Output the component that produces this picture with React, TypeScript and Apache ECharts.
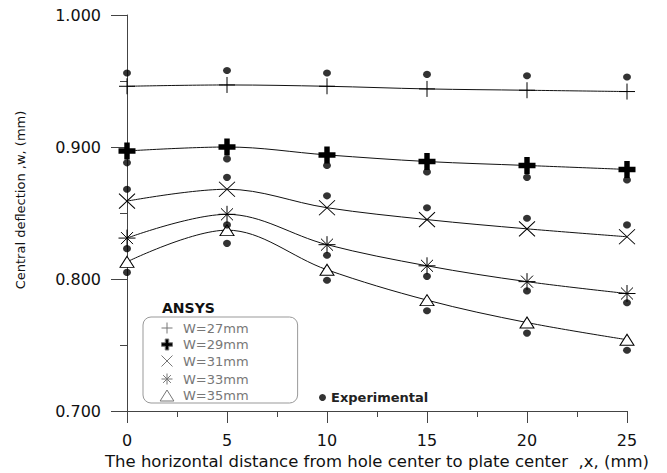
import React, { useEffect, useRef } from 'react';
import * as echarts from 'echarts';

const xValues = [0, 5, 10, 15, 20, 25];
const xTicks = [0, 5, 10, 15, 20, 25];
const yTicks = [0.7, 0.8, 0.9, 1.0];

const seriesNames = ['W=27mm', 'W=29mm', 'W=31mm', 'W=33mm', 'W=35mm'];
const ansys27 = [0.946, 0.947, 0.946, 0.944, 0.943, 0.942];
const ansys29 = [0.897, 0.9, 0.894, 0.889, 0.886, 0.883];
const ansys31 = [0.859, 0.868, 0.854, 0.845, 0.838, 0.832];
const ansys33 = [0.831, 0.849, 0.826, 0.81, 0.798, 0.789];
const ansys35 = [0.813, 0.837, 0.807, 0.784, 0.767, 0.754];

const exp27 = [0.956, 0.958, 0.956, 0.955, 0.954, 0.953];
const exp29 = [0.888, 0.891, 0.886, 0.881, 0.877, 0.875];
const exp31 = [0.868, 0.877, 0.863, 0.854, 0.846, 0.841];
const exp33 = [0.823, 0.841, 0.818, 0.802, 0.791, 0.782];
const exp35 = [0.805, 0.827, 0.799, 0.776, 0.759, 0.746];

const FONT = 'DejaVu Sans';

const SYM_PLUS = 'path://M0,5L10,5M5,0L5,10';
const SYM_BOLDPLUS = 'path://M3.4,0H6.6V3.4H10V6.6H6.6V10H3.4V6.6H0V3.4H3.4Z';
const SYM_CROSS = 'path://M0,0L10,10M10,0L0,10';
const SYM_STAR = 'path://M5,0L5,10M0,5L10,5M1.46,1.46L8.54,8.54M8.54,1.46L1.46,8.54';
const SYM_TRI = 'path://M5,0L10,8L0,8Z';

export default function App() {
  const ref = useRef<HTMLDivElement>(null);
  useEffect(() => {
    if (!ref.current) return;
    const chart = echarts.init(ref.current, null, { renderer: 'svg' });
    const ansys = [ansys27, ansys29, ansys31, ansys33, ansys35];
    const exps = [exp27, exp29, exp31, exp33, exp35];
    const symbols = [SYM_PLUS, SYM_BOLDPLUS, SYM_CROSS, SYM_STAR, SYM_TRI];
    const sizes: any[] = [[16, 16], [17, 17], [16, 15], [17, 17], [14, 11]];
    const fills = ['none', '#000', 'none', 'none', '#fff'];
    const borders = [1, 0, 1, 1, 1];

    const lineSeries = ansys.map((vals, i) => ({
      type: 'line',
      name: seriesNames[i],
      data: xValues.map((x, j) => [x, vals[j]]),
      smooth: 0.35,
      symbol: symbols[i],
      symbolSize: sizes[i],
      showAllSymbol: true,
      clip: false,
      z: 3,
      lineStyle: { color: '#111', width: 1 },
      itemStyle: { color: fills[i], borderColor: '#000', borderWidth: borders[i] },
      emphasis: { disabled: true },
    }));

    const expData: number[][] = [];
    exps.forEach((vals) => vals.forEach((v, j) => expData.push([xValues[j], v])));

    const option: any = {
      animation: false,
      backgroundColor: '#fff',
      title: {
        text: 'ANSYS',
        left: 162,
        top: 301,
        padding: 0,
        textStyle: { fontFamily: FONT, fontSize: 14, fontWeight: 'bold', color: '#111' },
      },
      grid: {
        left: 127,
        right: 40,
        top: 15,
        bottom: 62,
        containLabel: false,
        outerBoundsMode: 'none',
      },
      xAxis: {
        type: 'value',
        min: 0,
        max: 25,
        interval: 5,
        name: 'The horizontal distance from hole center to plate center  ,x, (mm)',
        nameLocation: 'middle',
        nameGap: 40,
        nameTextStyle: { fontFamily: FONT, fontSize: 16.5, color: '#111' },
        axisLine: { show: true, onZero: false, lineStyle: { color: '#444', width: 1 } },
        axisTick: { show: true, length: 12, lineStyle: { color: '#444' } },
        minorTick: { show: true, splitNumber: 2, length: 6, lineStyle: { color: '#444' } },
        splitLine: { show: false },
        axisLabel: {
          margin: 21,
          fontFamily: FONT,
          fontSize: 16,
          color: '#111',
          customValues: xTicks,
        },
      },
      yAxis: {
        type: 'value',
        min: 0.7,
        max: 1.0,
        interval: 0.1,
        name: 'Central deflection ,w, (mm)',
        nameLocation: 'middle',
        nameGap: 100,
        nameTextStyle: { fontFamily: FONT, fontSize: 13, color: '#111', padding: [0, 0, 0, 26] },
        axisLine: { show: true, onZero: false, lineStyle: { color: '#444', width: 1 } },
        axisTick: { show: true, length: 16, lineStyle: { color: '#444' } },
        minorTick: { show: true, splitNumber: 2, length: 7, lineStyle: { color: '#444' } },
        splitLine: { show: false },
        axisLabel: {
          margin: 26,
          fontFamily: FONT,
          fontSize: 16,
          color: '#111',
          customValues: yTicks,
          formatter: (v: number) => v.toFixed(3),
        },
      },
      legend: [
        {
          data: seriesNames.map((n, i) => ({ name: n, icon: symbols[i] })),
          orient: 'vertical',
          left: 143,
          top: 317,
          itemWidth: 16,
          itemHeight: 11,
          itemGap: 2,
          padding: [3, 49, 1, 16],
          borderColor: '#999',
          borderWidth: 1,
          borderRadius: 8,
          selectedMode: false,
          itemStyle: { borderColor: '#777', borderWidth: 1 },
          textStyle: {
            fontFamily: FONT,
            fontSize: 13,
            color: '#777',
            padding: [0, 0, 0, 3],
          },
        },
        {
          data: [{ name: 'Experimental', icon: 'circle' }],
          left: 319,
          top: 391,
          itemWidth: 7,
          itemHeight: 7,
          padding: 0,
          selectedMode: false,
          textStyle: { fontFamily: FONT, fontSize: 13, fontWeight: 'bold', color: '#222' },
        },
      ],
      series: [
        ...lineSeries,
        {
          type: 'scatter',
          name: 'Experimental',
          data: expData,
          symbol: 'circle',
          symbolSize: [8, 7],
          clip: false,
          z: 4,
          itemStyle: { color: '#000' },
          emphasis: { disabled: true },
        },
      ],
    };
    chart.setOption(option);
    return () => chart.dispose();
  }, []);
  return (
    <div
      ref={ref}
      style={{ position: 'fixed', left: 0, top: 0, width: 667, height: 473, background: '#fff' }}
    />
  );
}
